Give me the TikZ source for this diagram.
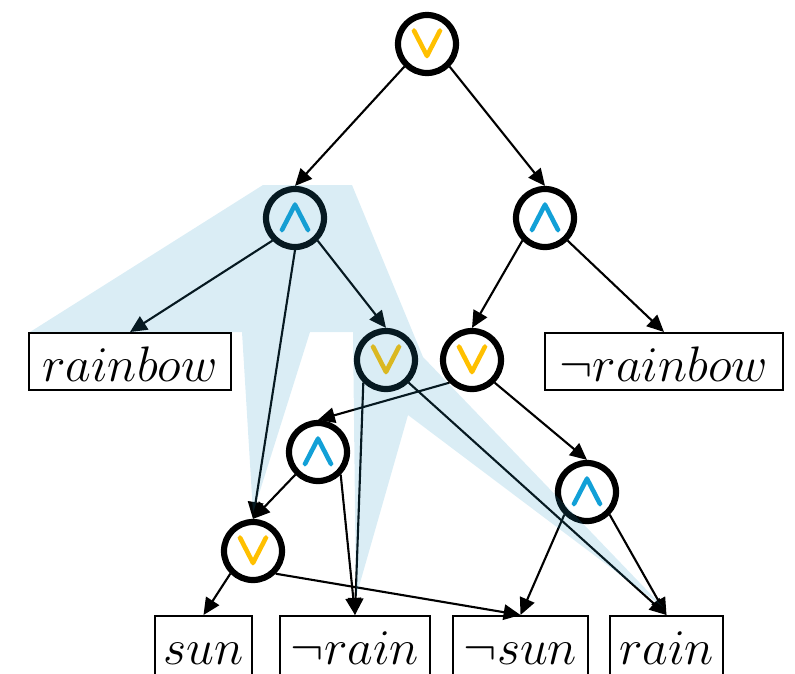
\RequirePackage{fix-cm}
\documentclass[tikz,border=0pt]{standalone}
\usepackage{tikz}
\usetikzlibrary{arrows.meta}
\newcommand\leaffont{\fontsize{35.5}{38}\selectfont}
\newcommand\gatefont{\fontsize{32}{34}\selectfont\boldmath}
\newcommand\heavy[1]{\special{pdf:literal direct 2 Tr 1.3 w}#1\special{pdf:literal direct 0 Tr}}
\definecolor{orgold}{HTML}{FFC000}
\definecolor{andblue}{HTML}{12A0D7}
\definecolor{hlblue}{RGB}{38,150,196}
\tikzset{gate/.style={circle,draw=black,line width=4.4pt,fill=white,minimum size=1.45cm,inner sep=0pt,font=\gatefont},
orgate/.style={gate,text=orgold},
andgate/.style={gate,text=andblue},
leaf/.style={draw,line width=1.4pt,fill=white,minimum height=1.425cm,anchor=north,inner sep=0pt,font=\leaffont,text height=28pt,text depth=0pt},
cutleaf/.style={leaf,minimum height=1.6cm,text height=24pt},
edge/.style={-{Triangle[length=12pt,width=11pt]},line width=1.5pt},
hl/.style={fill=hlblue,fill opacity=.17}}

\begin{document}
\begin{tikzpicture}[x=0.025cm,y=-0.025cm]
\useasboundingbox (0,0) rectangle (795,673);
\node[orgate] (or1) at (427,44) {\heavy{$\vee$}};
\node[andgate] (and1) at (295,218) {\heavy{$\wedge$}};
\node[andgate] (and2) at (545,218) {\heavy{$\wedge$}};
\node[orgate] (or2) at (386,360) {\heavy{$\vee$}};
\node[orgate] (or3) at (472,360) {\heavy{$\vee$}};
\node[andgate] (and3) at (318,452) {\heavy{$\wedge$}};
\node[andgate] (and4) at (587,492) {\heavy{$\wedge$}};
\node[orgate] (or4) at (253,551) {\heavy{$\vee$}};
\node[leaf,minimum width=5.05cm] (rainbow) at (130,332) {$rainbow$};
\node[leaf,minimum width=5.925cm] (nrainbow) at (664,332) {$\neg rainbow$};
\node[cutleaf,minimum width=2.425cm] (sun) at (203.5,615) {$sun$};
\node[cutleaf,minimum width=3.75cm] (nrain) at (355,615) {$\neg rain$};
\node[cutleaf,minimum width=3.375cm] (nsun) at (520.5,615) {$\neg sun$};
\node[cutleaf,minimum width=2.825cm] (rain) at (666.5,615) {$rain$};
\draw[edge] (or1.south west) -- (and1.north);
\draw[edge] (or1.south east) -- (and2.north);
\draw[edge] (and1.south west) -- (rainbow.north);
\draw[edge] (and1.south) -- (or4.north);
\draw[edge] (and1.south east) -- (or2.north);
\draw[edge] (and2.south west) -- (or3.north);
\draw[edge] (and2.south east) -- (nrainbow.north);
\draw[edge] (or2.south west) -- (nrain.north);
\draw[edge] (or2.south east) -- (rain.north);
\draw[edge] (or3.south west) -- (and3.north);
\draw[edge] (or3.south east) -- (and4.north);
\draw[edge] (and3.south west) -- (or4.north);
\draw[edge] (and3.south east) -- (nrain.north);
\draw[edge] (or4.south west) -- (sun.north);
\draw[edge] (or4.south east) -- (nsun.north);
\draw[edge] (and4.south west) -- (nsun.north);
\draw[edge] (and4.south east) -- (rain.north);
\fill[hl] (30,332) -- (263,185) -- (352,185) -- (423,357) -- (663,607) -- (408,415) -- (356,597) -- (353,332) -- (310,332) -- (253,513) -- (242,332) -- cycle;
\end{tikzpicture}
\end{document}
